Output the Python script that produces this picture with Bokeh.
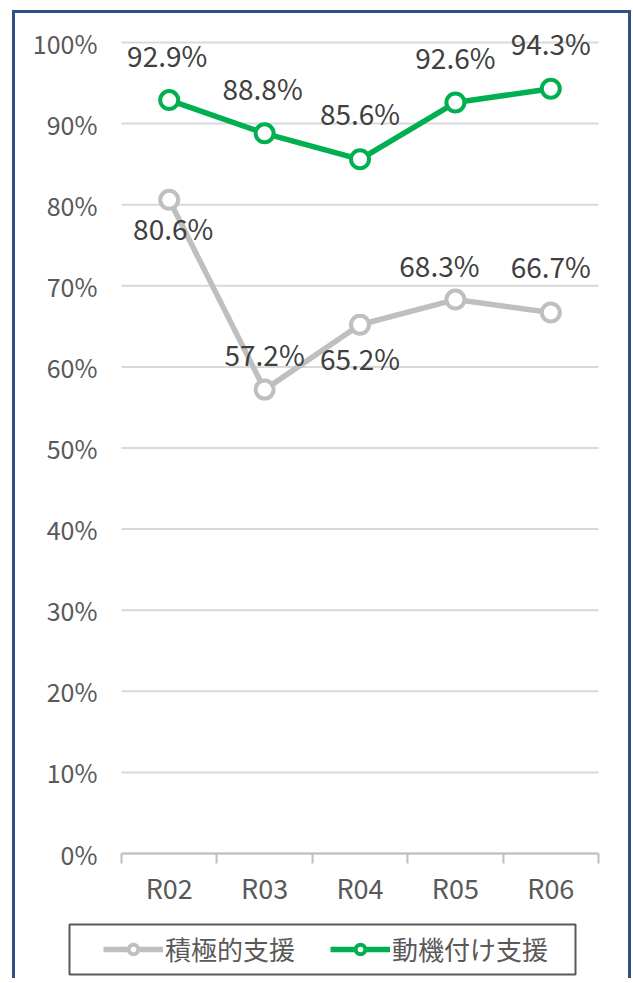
from bokeh.plotting import figure
from bokeh.models import (FixedTicker, NumeralTickFormatter, Legend, LegendItem,
                          ColumnDataSource, Range1d, BoxAnnotation)
from bokeh.core.properties import value
from bokeh.embed import file_html
from bokeh.resources import INLINE
import numpy as np

# ---- data ----
categories = ["R02", "R03", "R04", "R05", "R06"]
sekkyoku = [0.806, 0.572, 0.652, 0.683, 0.667]   # 積極的支援
doukizuke = [0.929, 0.888, 0.856, 0.926, 0.943]  # 動機付け支援
y_ticks = [0, 0.1, 0.2, 0.3, 0.4, 0.5, 0.6, 0.7, 0.8, 0.9, 1.0]
series_names = ["積極的支援", "動機付け支援"]

# ---- label placement (screen px) ----
gray_dx = [4, 0, 0, -16, 0]
gray_dy = [28, -36, 33, -35, -47]
green_dx = [-2, -2, 0, 0, 0]
green_dy = [-45, -45, -46, -46, -46]

FONT = "Noto Sans CJK JP"
GREEN = "#00B050"
GRAY = "#BFBFBF"
BORDER = "3px solid #2F5080"

n = len(categories)
x = np.arange(n) + 0.5

# canvas: 619 x 968 px; category axis spans 477 px, value axis 811 px
W, H = 619, 968
PX_X = 477 / n
PX_Y = 811.0
x_range = Range1d(-106 / PX_X, n + 36 / PX_X)
y_range = Range1d(-128 / PX_Y, 1 + 29 / PX_Y)

p = figure(width=W, height=H, output_backend="svg", toolbar_location=None,
           x_range=x_range, y_range=y_range,
           min_border=0, min_border_left=0, min_border_right=0,
           min_border_top=0, min_border_bottom=0)
p.styles = {"border-left": BORDER, "border-top": BORDER, "border-right": BORDER,
            "margin-left": "12px", "margin-top": "10px", "overflow": "hidden"}
p.outline_line_color = None
p.background_fill_color = "white"
p.border_fill_color = "white"
p.grid.visible = False

# gridlines limited to the category span
p.segment(x0=0, x1=n, y0=y_ticks, y1=y_ticks, line_color="#D9D9D9", line_width=2)

# y axis (inside the frame, at x = 0)
p.yaxis.fixed_location = 0
p.yaxis.bounds = (0, 1)
p.yaxis.ticker = FixedTicker(ticks=y_ticks)
p.yaxis.formatter = NumeralTickFormatter(format="0%")
p.yaxis.axis_line_color = None
p.yaxis.major_tick_line_color = None
p.yaxis.minor_tick_line_color = None
p.yaxis.major_tick_out = 0
p.yaxis.major_tick_in = 0
p.yaxis.minor_tick_out = 0
p.yaxis.major_label_standoff = 24
p.yaxis.major_label_text_font = FONT
p.yaxis.major_label_text_font_size = "25px"
p.yaxis.major_label_text_color = "#595959"

# x axis (inside the frame, at y = 0)
p.xaxis.fixed_location = 0
p.xaxis.bounds = (0, n)
p.xaxis.ticker = FixedTicker(ticks=list(x), minor_ticks=list(range(n + 1)))
p.xaxis.major_label_overrides = {float(xx): c for xx, c in zip(x, categories)}
p.xaxis.axis_line_color = GRAY
p.xaxis.axis_line_width = 2
p.xaxis.major_tick_line_color = None
p.xaxis.major_tick_out = 0
p.xaxis.major_tick_in = 0
p.xaxis.minor_tick_line_color = GRAY
p.xaxis.minor_tick_line_width = 2
p.xaxis.minor_tick_out = 10
p.xaxis.minor_tick_in = 0
p.xaxis.major_label_standoff = 4
p.xaxis.major_label_text_font = FONT
p.xaxis.major_label_text_font_size = "27px"
p.xaxis.major_label_text_color = "#595959"

src_g = ColumnDataSource(dict(x=x, y=sekkyoku, lab=[f"{v*100:.1f}%" for v in sekkyoku],
                              dx=gray_dx, dy=gray_dy))
src_n = ColumnDataSource(dict(x=x, y=doukizuke, lab=[f"{v*100:.1f}%" for v in doukizuke],
                              dx=green_dx, dy=green_dy))

lg = p.line("x", "y", source=src_g, line_color=GRAY, line_width=5.5)
sg = p.scatter("x", "y", source=src_g, size=18, marker="circle", fill_color="white",
               line_color=GRAY, line_width=4)
ln = p.line("x", "y", source=src_n, line_color=GREEN, line_width=5.5)
sn = p.scatter("x", "y", source=src_n, size=18, marker="circle", fill_color="white",
               line_color=GREEN, line_width=4)

for src in (src_g, src_n):
    p.text("x", "y", text="lab", source=src, x_offset="dx", y_offset="dy",
           text_align="center", text_baseline="middle", text_font=value(FONT),
           text_font_size="28px", text_color="#404040")

# legend frame (below the category axis)
legend_box = BoxAnnotation(left=-52 / PX_X, right=454 / PX_X,
                           top=-71 / PX_Y, bottom=-121 / PX_Y,
                           fill_color="white", fill_alpha=1,
                           line_color="#595959", line_alpha=1, line_width=2)
p.add_layout(legend_box)

legend = Legend(items=[LegendItem(label=series_names[0], renderers=[lg, sg]),
                       LegendItem(label=series_names[1], renderers=[ln, sn])],
                orientation="horizontal", location=(88, 14))
legend.label_text_font = FONT
legend.label_text_font_size = "26px"
legend.label_text_color = "#595959"
legend.glyph_width = 60
legend.glyph_height = 24
legend.label_standoff = 2
legend.spacing = 35
legend.padding = 6
legend.margin = 0
legend.border_line_color = None
legend.background_fill_alpha = 0
p.add_layout(legend, "center")

open("out.html", "w").write(file_html(p, INLINE))
